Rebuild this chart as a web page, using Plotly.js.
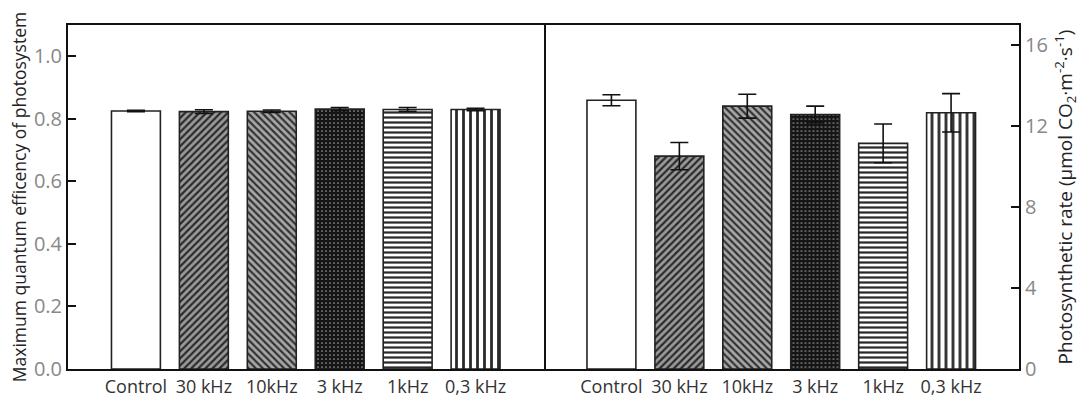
<!DOCTYPE html>
<html><head><meta charset="utf-8">
<script src="https://cdn.plot.ly/plotly-3.0.1.min.js"></script>
<style>html,body{margin:0;padding:0;background:#fff}#chart{width:1088px;height:404px}</style>
</head><body><div id="chart"></div>
<script>
const categories = ["Control", "30 kHz", "10kHz", "3 kHz", "1kHz", "0,3 kHz"];
const efficiencyValues = [0.825, 0.823, 0.824, 0.831, 0.830, 0.830];
const efficiencyErrors = [0.002, 0.006, 0.004, 0.005, 0.006, 0.004];
const rateValues = [13.28, 10.52, 12.99, 12.58, 11.15, 12.66];
const rateErrors = [0.27, 0.67, 0.59, 0.41, 0.96, 0.95];
const leftTicks = [0, 0.2, 0.4, 0.6, 0.8, 1.0];
const rightTicks = [0, 4, 8, 12, 16];

const pattern = {
  shape: ["", "/", "\\", ".", "-", "|"],
  bgcolor: ["#ffffff", "#9a9a9a", "#a8a8a8", "#151515", "#ffffff", "#ffffff"],
  fgcolor: ["#ffffff", "#2a2a2a", "#333333", "#9a9a9a", "#2a2a2a", "#2a2a2a"],
  size: [6, 5, 5, 4, 5, 7],
  solidity: [0.3, 0.45, 0.45, 0.15, 0.45, 0.4],
  fillmode: "replace"
};
const xIdx = categories.map((c, i) => i);
const font = "Open Sans, Noto Sans, sans-serif";

const common = {
  type: "bar",
  width: 0.72,
  marker: {color: "#ffffff", line: {color: "#222", width: 1.6}, pattern: pattern},
  hoverinfo: "skip"
};
const traces = [
  Object.assign({}, common, {
    x: xIdx, y: efficiencyValues, xaxis: "x", yaxis: "y",
    error_y: {type: "data", array: efficiencyErrors, visible: true, color: "#111", thickness: 1.6, width: 9}
  }),
  Object.assign({}, common, {
    x: xIdx, y: rateValues, xaxis: "x2", yaxis: "y2",
    error_y: {type: "data", array: rateErrors, visible: true, color: "#111", thickness: 1.6, width: 9}
  })
];

const xcommon = {
  range: [-1, 6], tickmode: "array", tickvals: xIdx, ticktext: categories,
  showline: true, mirror: true, linecolor: "#111", linewidth: 2,
  ticks: "", showgrid: false, zeroline: false,
  tickfont: {family: font, size: 18, color: "#333"}
};
const layout = {
  width: 1088, height: 404,
  margin: {l: 68, r: 69, t: 25, b: 35},
  paper_bgcolor: "#fff", plot_bgcolor: "#fff",
  showlegend: false,
  xaxis: Object.assign({}, xcommon, {domain: [0, 0.5], anchor: "y"}),
  xaxis2: Object.assign({}, xcommon, {domain: [0.5, 1], anchor: "y2"}),
  yaxis: {
    range: [0, 1.1], tickmode: "array", tickvals: leftTicks,
    ticktext: leftTicks.map(v => v.toFixed(1)),
    anchor: "x", showline: true, mirror: true, linecolor: "#111", linewidth: 2,
    ticks: "inside", ticklen: 8, tickwidth: 2, tickcolor: "#111",
    showgrid: false, zeroline: false,
    tickfont: {family: font, size: 20, color: "#888"},
    title: {text: "Maximum quantum efficency of photosystem", font: {family: font, size: 17.5, color: "#222"}, standoff: 3}
  },
  yaxis2: {
    range: [0, 17], tickmode: "array", tickvals: rightTicks,
    anchor: "x2", side: "right", showline: true, mirror: false, linecolor: "#111", linewidth: 2,
    ticks: "inside", ticklen: 8, tickwidth: 2, tickcolor: "#111",
    showgrid: false, zeroline: false,
    tickfont: {family: font, size: 20, color: "#888"},
    title: {text: "Photosynthetic rate (μmol CO<sub>2</sub>·m<sup>-2</sup>·s<sup>-1</sup>)", font: {family: font, size: 19, color: "#222"}, standoff: 12}
  }
};
Plotly.newPlot("chart", traces, layout, {displayModeBar: false, staticPlot: true});
</script>
</body></html>
